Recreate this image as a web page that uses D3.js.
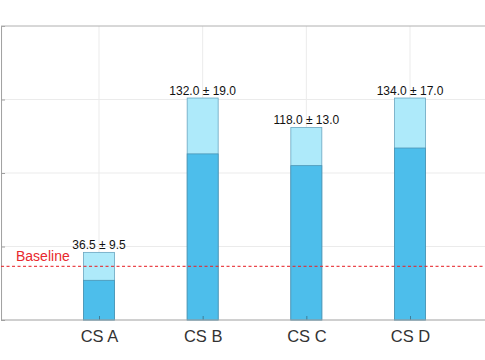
<!DOCTYPE html>
<html><head><meta charset="utf-8">
<script src="https://cdn.jsdelivr.net/npm/d3@7"></script>
<style>body{margin:0;background:#fff}svg{display:block}</style>
</head><body>
<script>
const categories = ["CS A", "CS B", "CS C", "CS D"];
const means = [36.5, 132.0, 118.0, 134.0];
const stds = [9.5, 19.0, 13.0, 17.0];
const baselineValue = 36.5;
const yTicks = [0, 50, 100, 150, 200];

const W = 485, H = 360;
const svg = d3.select("body").append("svg").attr("width", W).attr("height", H);
const font = "'Liberation Sans', Arial, Helvetica, sans-serif";

const y = d3.scaleLinear().domain([0, 200]).range([320, 26]);
const x = d3.scaleLinear().domain([1, 4]).range([99, 410]);
const xLeft = x(0.055), xRight = x(4.95);
const barW = 31;

// gridlines
svg.append("g").selectAll("line.h").data(yTicks.slice(1, 4)).join("line")
  .attr("x1", xLeft).attr("x2", xRight).attr("y1", d => y(d)).attr("y2", d => y(d))
  .attr("stroke", "#ebebeb").attr("stroke-width", 1);
svg.append("g").selectAll("line.v").data(categories).join("line")
  .attr("x1", (d, i) => x(i + 1)).attr("x2", (d, i) => x(i + 1))
  .attr("y1", y(0)).attr("y2", y(200))
  .attr("stroke", "#ebebeb").attr("stroke-width", 1);

// bars: light (mean+std), dark (mean-std)
const g = svg.append("g");
g.selectAll("rect.hi").data(means).join("rect")
  .attr("x", (d, i) => x(i + 1) - barW / 2).attr("width", barW)
  .attr("y", (d, i) => y(d + stds[i])).attr("height", (d, i) => y(0) - y(d + stds[i]))
  .attr("fill", "#aeeafa").attr("stroke", "#6aa6c0").attr("stroke-width", 0.8);
g.selectAll("rect.lo").data(means).join("rect")
  .attr("x", (d, i) => x(i + 1) - barW / 2).attr("width", barW)
  .attr("y", (d, i) => y(d - stds[i])).attr("height", (d, i) => y(0) - y(d - stds[i]))
  .attr("fill", "#4dbeeb").attr("stroke", "#4a94b4").attr("stroke-width", 0.8);

// value labels
g.selectAll("text.val").data(means).join("text")
  .attr("x", (d, i) => x(i + 1)).attr("y", (d, i) => y(d + stds[i]) - 3)
  .attr("text-anchor", "middle").attr("font-family", font).attr("font-size", 12)
  .attr("fill", "#111")
  .text((d, i) => d.toFixed(1) + " \u00b1 " + stds[i].toFixed(1));

// axes lines
const yAxis = d3.axisLeft(y).tickValues(yTicks).tickSize(-4).tickFormat("");
const ya = svg.append("g").attr("transform", `translate(${xLeft},0)`).call(yAxis);
ya.select(".domain").attr("stroke", "#a0a0a0");
ya.selectAll(".tick line").attr("stroke", "#a0a0a0");

svg.append("line").attr("x1", xLeft).attr("x2", xRight).attr("y1", y(200)).attr("y2", y(200))
  .attr("stroke", "#b0b0b0");

const xAxis = d3.axisBottom(x).tickValues([1, 2, 3, 4]).tickSize(-4)
  .tickFormat(d => categories[d - 1]).tickPadding(10);
const xa = svg.append("g").attr("transform", `translate(0,${y(0)})`).call(xAxis);
xa.select(".domain").remove();
svg.append("line").attr("x1", xLeft).attr("x2", xRight).attr("y1", y(0)).attr("y2", y(0))
  .attr("stroke", "#a0a0a0");
xa.selectAll(".tick line").attr("stroke", "#3d7e9a");
xa.selectAll(".tick text").attr("font-family", font).attr("font-size", 16.5).attr("fill", "#333");

// baseline
svg.append("line").attr("x1", xLeft).attr("x2", xRight)
  .attr("y1", y(baselineValue)).attr("y2", y(baselineValue))
  .attr("stroke", "#e8282d").attr("stroke-width", 1.2).attr("stroke-dasharray", "3,2.5").attr("opacity", 0.85);
svg.append("text").attr("x", 16).attr("y", y(baselineValue) - 5)
  .attr("font-family", font).attr("font-size", 14).attr("fill", "#e8282d").text("Baseline");
</script>
</body></html>
